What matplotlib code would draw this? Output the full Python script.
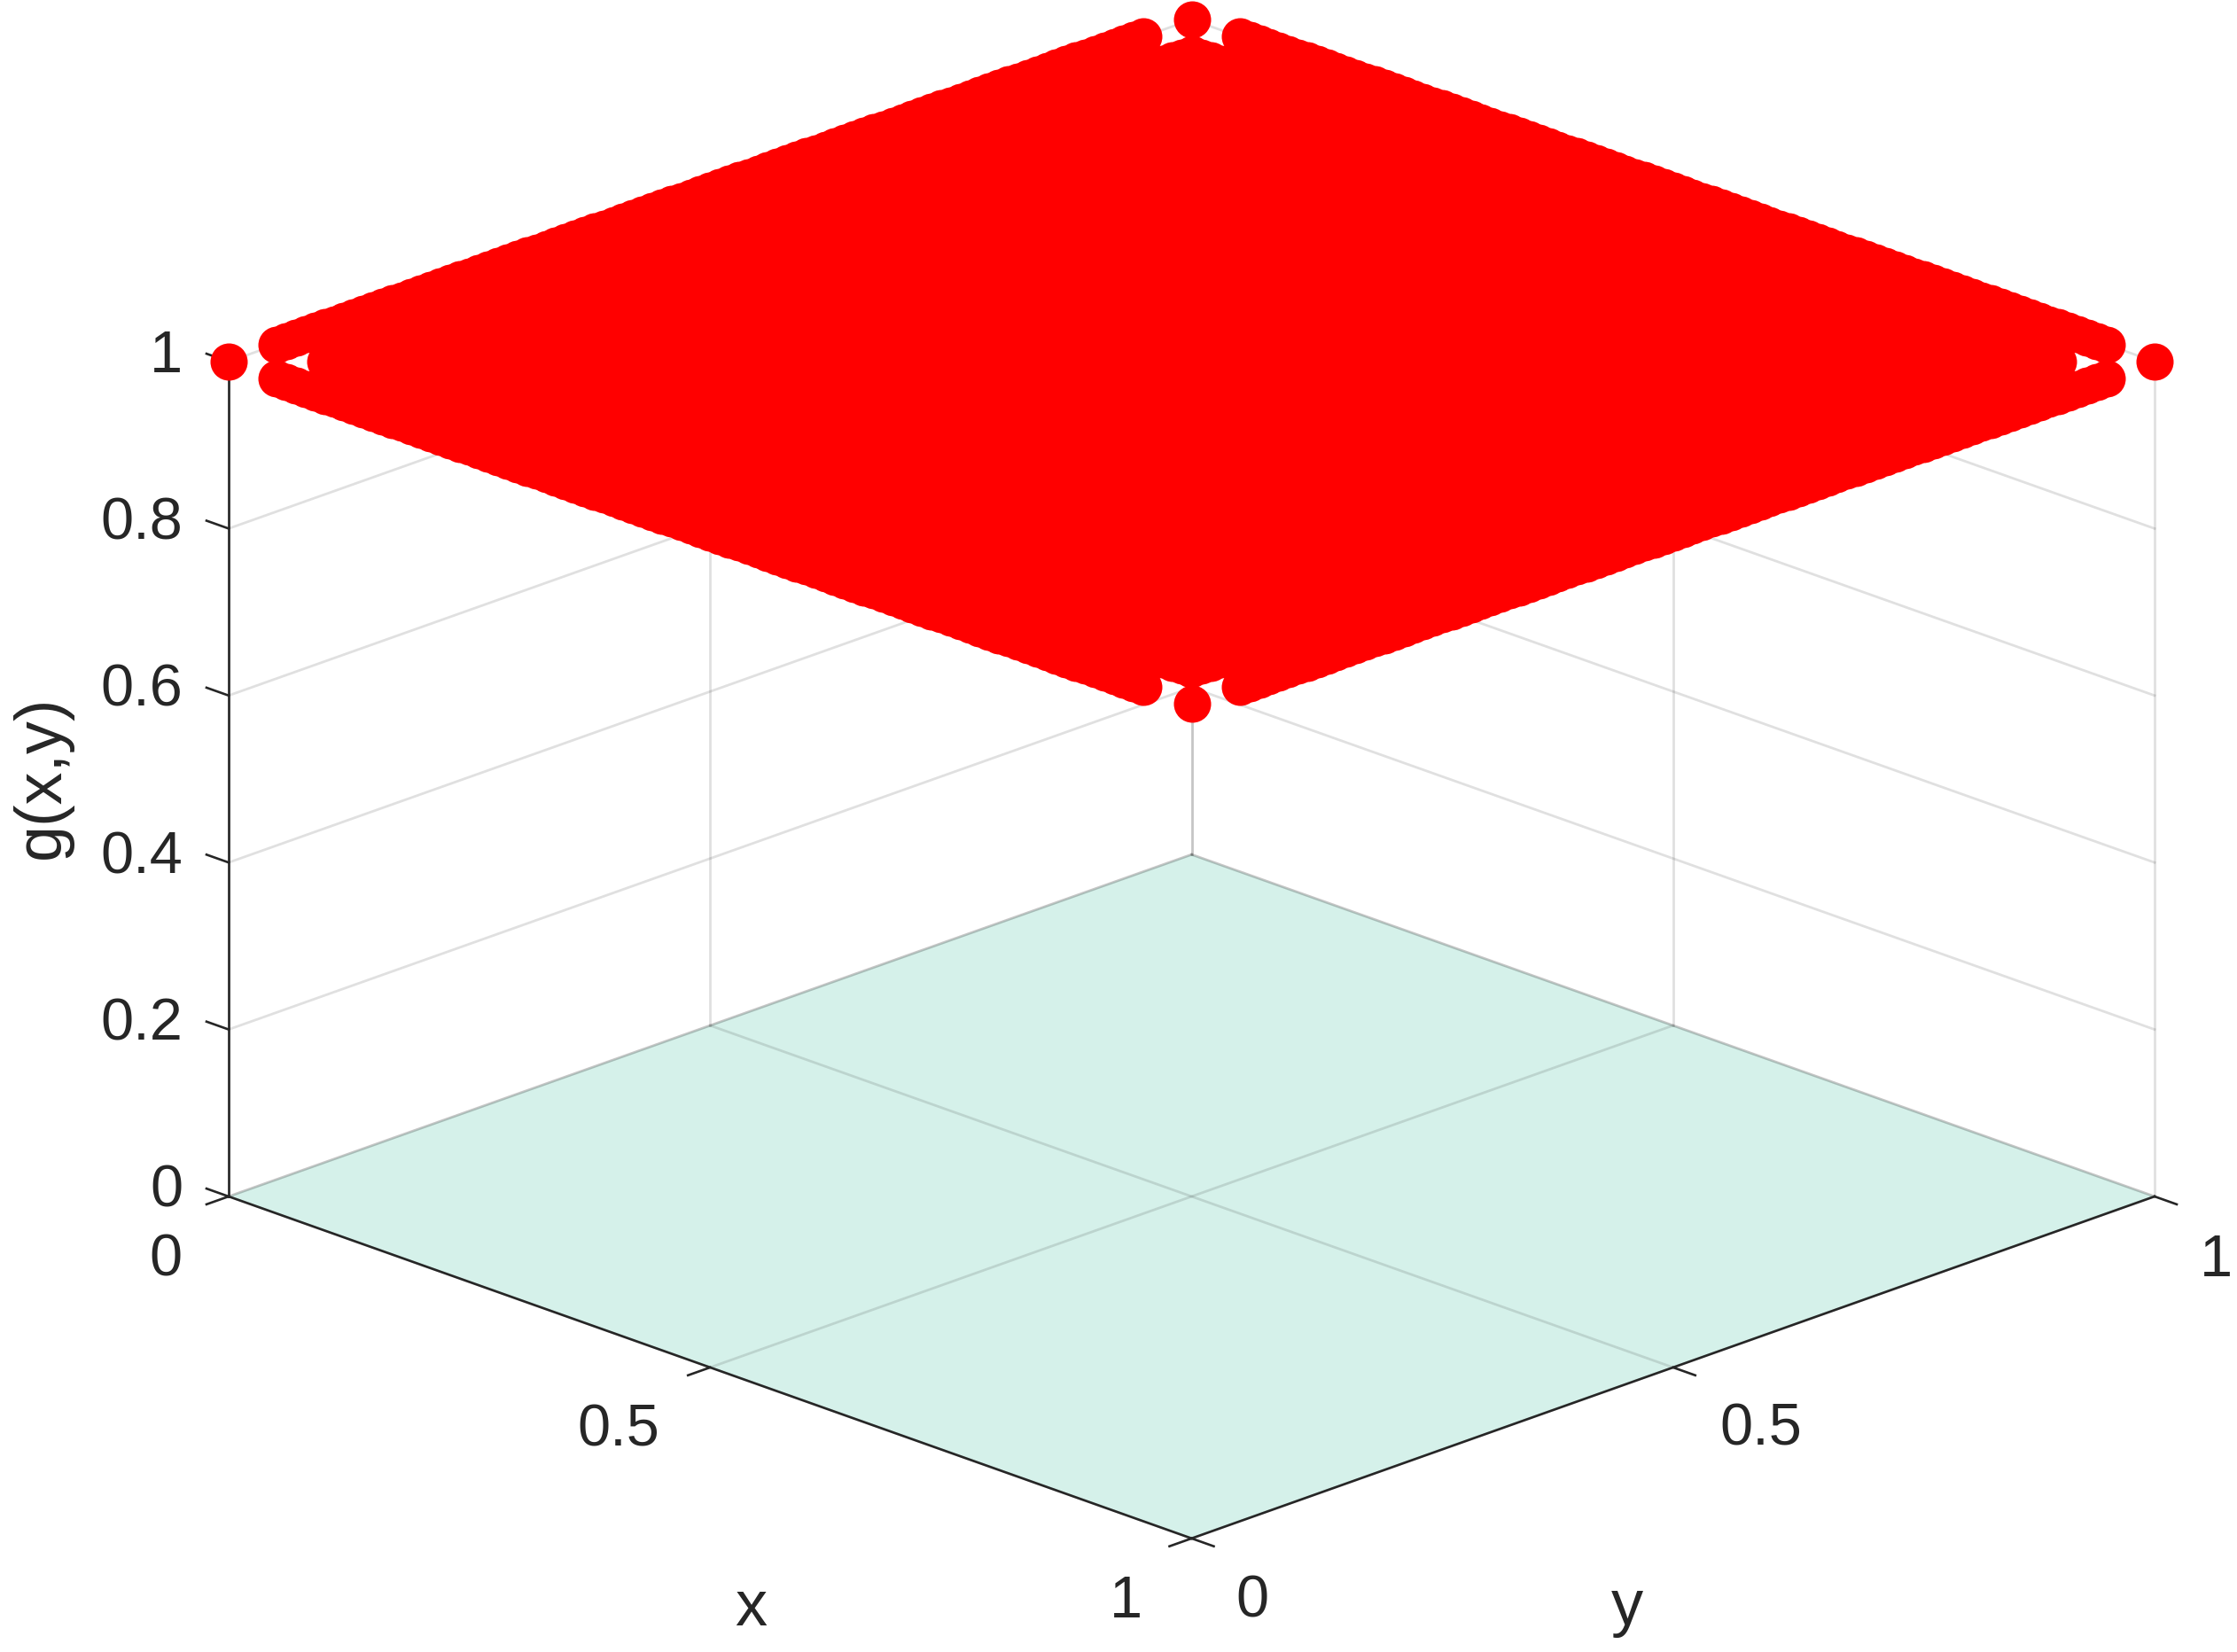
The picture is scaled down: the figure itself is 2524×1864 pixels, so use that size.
import matplotlib
matplotlib.use("Agg")
import matplotlib.pyplot as plt
import numpy as np
from mpl_toolkits.mplot3d import proj3d

plt.rcParams['font.family'] = ['Liberation Sans', 'DejaVu Sans']

# grid levels of the scattered points, g(x,y) is 1 on all of them
levels = [0.00,
          0.05, 0.06, 0.07, 0.08, 0.09, 0.10, 0.11, 0.12, 0.13, 0.14,
          0.15, 0.16, 0.17, 0.18, 0.19, 0.20, 0.21, 0.22, 0.23, 0.24,
          0.25, 0.26, 0.27, 0.28, 0.29, 0.30, 0.31, 0.32, 0.33, 0.34,
          0.35, 0.36, 0.37, 0.38, 0.39, 0.40, 0.41, 0.42, 0.43, 0.44,
          0.45, 0.46, 0.47, 0.48, 0.49, 0.50, 0.51, 0.52, 0.53, 0.54,
          0.55, 0.56, 0.57, 0.58, 0.59, 0.60, 0.61, 0.62, 0.63, 0.64,
          0.65, 0.66, 0.67, 0.68, 0.69, 0.70, 0.71, 0.72, 0.73, 0.74,
          0.75, 0.76, 0.77, 0.78, 0.79, 0.80, 0.81, 0.82, 0.83, 0.84,
          0.85, 0.86, 0.87, 0.88, 0.89, 0.90, 0.91, 0.92, 0.93, 0.94,
          0.95,
          1.00]
g_value = 1.0

xy_ticks = [0, 0.5, 1]
xy_labels = ['0', '0.5', '1']
z_ticks = [0, 0.2, 0.4, 0.6, 0.8, 1]
z_labels = ['0', '0.2', '0.4', '0.6', '0.8', '1']

INK = '#262626'
GRID = (0.15, 0.15, 0.15, 0.14)
FLOOR = '#d5f1ea'
TICK_LEN = 0.023
GRID_LW = 2.0
AXIS_LW = 1.9

fig = plt.figure(figsize=(25.24, 18.64), dpi=100)
ax = fig.add_axes([0, 0, 1, 1], projection='3d', proj_type='ortho')
ax.computed_zorder = False
ax.view_init(elev=20.8, azim=-45)
ax.set_box_aspect((1537, 1537, 1008))
ax.set_axis_off()

# floor
fx, fy = np.meshgrid([0, 1], [0, 1])
ax.plot_surface(fx, fy, np.zeros_like(fx, dtype=float), color=FLOOR, shade=False, linewidth=0, zorder=1)

# grid on the floor and the two back walls
for t in xy_ticks:
    ax.plot([t, t], [0, 1], [0, 0], color=GRID, lw=GRID_LW, zorder=2)
    ax.plot([0, 1], [t, t], [0, 0], color=GRID, lw=GRID_LW, zorder=2)
    ax.plot([0, 0], [t, t], [0, 1], color=GRID, lw=GRID_LW, zorder=2)
    ax.plot([t, t], [1, 1], [0, 1], color=GRID, lw=GRID_LW, zorder=2)
for t in z_ticks:
    ax.plot([0, 0], [0, 1], [t, t], color=GRID, lw=GRID_LW, zorder=2)
    ax.plot([0, 1], [1, 1], [t, t], color=GRID, lw=GRID_LW, zorder=2)

# axis lines and tick marks
ax.plot([0, 1], [0, 0], [0, 0], color=INK, lw=AXIS_LW, zorder=3)
ax.plot([1, 1], [0, 1], [0, 0], color=INK, lw=AXIS_LW, zorder=3)
ax.plot([0, 0], [0, 0], [0, 1], color=INK, lw=AXIS_LW, zorder=3)
for t in xy_ticks:
    ax.plot([t, t], [0, -TICK_LEN], [0, 0], color=INK, lw=AXIS_LW, zorder=3)
    ax.plot([1, 1 + TICK_LEN], [t, t], [0, 0], color=INK, lw=AXIS_LW, zorder=3)
for t in z_ticks:
    ax.plot([0, -TICK_LEN], [0, 0], [t, t], color=INK, lw=AXIS_LW, zorder=3)

# the points
px, py = np.meshgrid(levels, levels)
pts = ax.scatter(px.ravel(), py.ravel(), np.full(px.size, g_value), c='#ff0000', s=914,
                 linewidths=0, depthshade=False, zorder=4)
pts.set_antialiased(False)

ax.set_xlim(0, 1)
ax.set_ylim(0, 1)
ax.set_zlim(0, 1)


def to_pixels(x, y, z):
    u, v, _ = proj3d.proj_transform(x, y, z, ax.get_proj())
    return ax.transData.transform((u, v))


# place the axes so the floor corners land where they should
H = 1864
ax.apply_aspect()
left = to_pixels(0, 0, 0)
right = to_pixels(1, 1, 0)
bbox = ax.get_position()
scale = 2173 / (right[0] - left[0])
w = bbox.width * 2524 * scale
cx = bbox.x0 * 2524 + bbox.width * 2524 / 2
cy = bbox.y0 * H + bbox.height * H / 2
mid_x = (left[0] + right[0]) / 2
mid_y = (left[1] + right[1]) / 2
new_cx = 1344.5 + (cx - mid_x) * scale
new_cy = (H - 1350) + (cy - mid_y) * scale
ax.set_position([(new_cx - w / 2) / 2524, (new_cy - w / 2) / H, w / 2524, w / H])
ax.apply_aspect()


def label(x, y, z, text, dx, dy, size=48, **kw):
    u, v, _ = proj3d.proj_transform(x, y, z, ax.get_proj())
    ax.annotate(text, xy=(u, v), xycoords='data', xytext=(dx, dy), textcoords='offset pixels',
                fontsize=size, color=INK, annotation_clip=False, va='center', **kw)


for t, s in zip(z_ticks, z_labels):
    label(0, 0, t, s, -52, 5, ha='right')

x_off = [(-71, -73), (-103, -72), (-74, -72)]
y_off = [(68, -72), (99, -71), (69, -73)]
for t, s, o in zip(xy_ticks, xy_labels, x_off):
    label(t, 0, 0, s, o[0], o[1], ha='center')
for t, s, o in zip(xy_ticks, xy_labels, y_off):
    label(1, t, 0, s, o[0], o[1], ha='center')

label(0.5, 0, 0, 'x', 46, -273, size=52, ha='center')
label(1, 0.5, 0, 'y', -52, -272, size=52, ha='center')
label(0, 0, 0.5, 'g(x,y)', -211, 2, size=53, ha='center', rotation=90)

fig.savefig('out.png', dpi=100)
